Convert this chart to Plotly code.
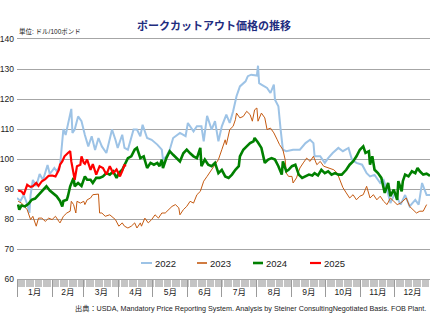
import pandas as pd
import plotly.graph_objects as go

# ---- data: pork cutout price (USD / 100 lb), x = day of year ----
days_2022 = [0, 3, 6, 9, 11, 12, 14, 17, 20, 23,
             27, 29, 33, 35, 38, 40, 41, 43, 46, 48,
             49, 51, 54, 57, 60, 63, 66, 69, 72, 75,
             79, 84, 87, 89, 93, 95, 98, 103, 106, 109,
             111, 115, 119, 124, 128, 129, 132, 135, 138, 144,
             149, 151, 156, 159, 163, 165, 168, 172, 175, 178,
             181, 185, 188, 191, 194, 197, 202, 204, 207, 212,
             213, 214, 216, 221, 224, 227, 228, 231, 233, 235,
             238, 244, 250, 255, 259, 262, 263, 268, 272, 275,
             279, 284, 288, 293, 296, 300, 305, 309, 312, 316,
             321, 324, 327, 330, 334, 339, 343, 347, 352, 355,
             358, 362, 365]
vals_2022 = [87, 86, 88, 85, 82, 88, 93, 91, 95, 93,
             98, 95, 97, 96, 97.6, 105, 110, 108, 113, 116.7,
             108.7, 109.8, 114.2, 112.6, 108, 104.2, 107.6, 103, 107, 104.2,
             102, 109.8, 106.4, 103.7, 108.1, 103.7, 103.1, 109.8, 109.8, 107.6,
             111.4, 107, 106.4, 104.8, 103.1, 99.8, 100.9, 103.1, 107, 108.7,
             107.6, 112, 109.2, 110.9, 110.9, 105.9, 114.4, 109.8, 112.6, 105.9,
             110.9, 114.8, 112, 115.9, 120.9, 124.2, 125.9, 127.6, 128.1, 127.8,
             131.1, 125.3, 124.8, 123.7, 122, 124.8, 119.8, 117.6, 109.8, 103.1,
             102.6, 103.1, 103.1, 105.3, 106.4, 105.3, 100.9, 100.9, 98.7, 100.3,
             102, 103.7, 102.6, 103.7, 99.8, 98.7, 98.1, 95.3, 94.2, 94.7,
             92, 93, 89.8, 85.3, 88.7, 84.8, 88, 84.2, 86.4, 84.8,
             92, 88, 88]

days_2023 = [1, 4, 9, 12, 14, 17, 19, 22, 25, 28,
             31, 34, 37, 38, 41, 44, 47, 48, 50, 52,
             53, 56, 59, 60, 62, 65, 67, 69, 72, 73,
             75, 78, 82, 87, 90, 93, 95, 98, 101, 104,
             106, 109, 110, 113, 116, 119, 122, 125, 128, 131,
             134, 137, 140, 143, 144, 147, 150, 153, 156, 159,
             162, 165, 168, 172, 175, 178, 181, 184, 185, 188,
             191, 193, 194, 197, 200, 203, 206, 208, 210, 212,
             213, 216, 219, 221, 224, 227, 230, 232, 235, 237,
             238, 240, 243, 244, 247, 250, 253, 256, 259, 262,
             265, 268, 271, 275, 280, 283, 285, 288, 291, 294,
             297, 300, 303, 306, 309, 312, 315, 318, 321, 324,
             327, 330, 333, 336, 339, 341, 344, 347, 350, 353,
             356, 359, 362]
vals_2023 = [85.9, 85.3, 83.1, 79.8, 80.9, 77.6, 80.3, 80.3, 79.2, 80.3,
             79.8, 80.9, 79.2, 78.7, 80.9, 82, 82.6, 85.9, 84.8, 82,
             85.9, 85.3, 85.9, 84.8, 86.4, 87, 88.1, 88.1, 88.3, 82,
             82, 80.9, 81.4, 79.8, 77.6, 78.7, 77.6, 77, 77.6, 78.7,
             77, 78.7, 77.6, 80.3, 78.7, 79.8, 81.4, 80.3, 82, 82,
             83.1, 84.2, 84.8, 83.7, 81.4, 83.1, 84.2, 85.9, 85.3, 88.1,
             89.2, 92.6, 94.2, 96.4, 98.4, 99.8, 103.1, 106.4, 104.8, 109.8,
             110.9, 113.1, 115.3, 113.7, 114.2, 115.9, 114.8, 112.6, 116.4, 117,
             112.6, 115.3, 113.7, 109.8, 110.3, 108.7, 106.4, 104.8, 103.1, 99.8,
             95.3, 94.2, 94.2, 92, 93.7, 97, 98.7, 100.3, 99.2, 100.9,
             98.1, 99.2, 97.6, 97, 96.4, 95.3, 93.5, 90.5, 88.7, 87,
             88.1, 86.4, 87.6, 88.1, 90.9, 87, 88.1, 86.4, 87.6, 85.9,
             84.8, 87, 85.9, 84.8, 85.3, 85.9, 87, 84.2, 83.1, 82,
             82.6, 82.6, 84.8]

days_2024 = [1, 2, 4, 7, 10, 13, 16, 19, 22, 23,
             26, 29, 32, 35, 38, 40, 41, 44, 45, 47,
             50, 51, 54, 57, 60, 62, 65, 67, 70, 73,
             76, 79, 82, 85, 88, 90, 93, 95, 98, 101,
             104, 106, 109, 112, 115, 118, 121, 124, 126, 128,
             129, 132, 135, 138, 141, 144, 147, 150, 153, 156,
             159, 162, 163, 166, 169, 172, 175, 177, 178, 181,
             184, 187, 190, 193, 196, 197, 200, 203, 206, 209,
             210, 213, 216, 219, 222, 225, 228, 231, 234, 235,
             238, 240, 243, 246, 249, 252, 255, 258, 261, 263,
             266, 269, 272, 275, 278, 281, 284, 287, 291, 294,
             297, 300, 303, 306, 308, 311, 312, 314, 316, 319,
             322, 325, 328, 330, 333, 336, 337, 340, 341, 343,
             346, 349, 352, 354, 356, 359, 362, 365]
vals_2024 = [84.8, 83.1, 84.5, 84.2, 85, 86.4, 86.8, 88.1, 89.2, 89.8,
             90.9, 89.5, 88.7, 87.6, 86, 84.2, 86, 86.4, 87.6, 90.9,
             93.7, 90.9, 92, 91, 94.2, 93.1, 93.1, 92, 93.7, 93.7,
             94.2, 95.3, 94.8, 95.9, 93.7, 95.3, 96.4, 98.1, 100.3, 100.9,
             103.1, 103.7, 100.3, 100.9, 97, 98.7, 98.1, 98.7, 97.6, 99.8,
             97, 100.3, 102.6, 101.4, 100.3, 99.2, 101.9, 103.1, 101.9, 100.9,
             100.3, 103.7, 97.6, 99.8, 98.1, 97.6, 98.7, 95.9, 95.3, 96.4,
             94.2, 93.7, 94.8, 96.4, 97.6, 100.9, 103.1, 104.2, 105.3, 105.9,
             107, 105.5, 103.7, 98.7, 99.8, 100.3, 99.8, 97.6, 94.8, 99.2,
             95.9, 96.4, 97.6, 98.1, 94.8, 93.7, 94.2, 94.8, 94.5, 95.3,
             94.5, 96.4, 95.3, 95.9, 94.8, 95.3, 94.8, 94.8, 96.4, 98.1,
             99.2, 100.9, 103.1, 104.2, 102, 102.6, 98.1, 100.9, 96.4, 95.3,
             93.7, 88.7, 92, 87.6, 89.8, 86.4, 92.6, 89.2, 92.6, 94.8,
             94.2, 95.9, 95.3, 97, 95.9, 94.8, 95.1, 94.4]

days_2025 = [1, 4, 6, 9, 10, 12, 14, 17, 19, 22,
             25, 28, 31, 34, 37, 38, 40, 42, 45, 47,
             48, 49, 50, 51, 53, 56, 57, 59, 60, 62,
             65, 67, 70, 73, 76, 79, 82, 85, 88, 91,
             93, 95, 96]
vals_2025 = [89.5, 89.2, 88.1, 91.4, 91.1, 90.7, 90.9, 92, 91, 92.6,
             93.3, 94.4, 94.5, 94.2, 96.4, 98.1, 99.2, 100.9, 102, 102.6,
             99.2, 97, 94.2, 93.1, 97.6, 98.1, 100.9, 98.7, 98.4, 99.8,
             96.4, 98.3, 94.8, 97.6, 97, 94.8, 97.6, 95.3, 96.5, 94.2,
             96, 98.1, 97.5]

series = [
    ("2022", days_2022, vals_2022, "#9dc3e6", 2.0),
    ("2023", days_2023, vals_2023, "#c55a11", 1.0),
    ("2024", days_2024, vals_2024, "#008000", 2.6),
    ("2025", days_2025, vals_2025, "#ff0000", 2.2),
]

y_ticks = [60, 70, 80, 90, 100, 110, 120, 130, 140]

TITLE = "ポークカットアウト価格の推移"
UNIT = "単位: ドル/100ポンド"
SOURCE = ("出典：USDA, Mandatory Price Reporting System. Analysis by Steiner "
          "ConsultingNegotiated Basis. FOB Plant.")

W, H = 430, 332
ML, MR, MT, MB = 17, 0, 39, 53
PW, PH = W - ML - MR, H - MT - MB

base = pd.Timestamp("2022-01-01")

fig = go.Figure()
for name, d, v, color, width in series:
    assert len(d) == len(v), name
    x = [base + pd.Timedelta(days=int(k)) for k in d]
    fig.add_trace(go.Scatter(x=x, y=v, mode="lines", name=name,
                             line=dict(color=color, width=width),
                             showlegend=False))

# legend row drawn beneath the curves
def px_x(p):
    return (p - ML) / PW

def px_y(p):
    return (H - MB - p) / PH

legend_pos = [(141, 152), (197, 207), (253, 263), (310, 321)]
leg_y = px_y(263)
shapes = []
annotations = []
for (name, d, v, color, width), (x0, x1) in zip(series, legend_pos):
    shapes.append(dict(type="line", xref="paper", yref="paper",
                       x0=px_x(x0), x1=px_x(x1), y0=leg_y, y1=leg_y,
                       line=dict(color=color, width=max(width, 1.6))))
    annotations.append(dict(text=name, xref="paper", yref="paper",
                            x=px_x(x1 + 1), y=leg_y, xanchor="left",
                            yanchor="middle", showarrow=False,
                            font=dict(size=9.5, color="#222")))

annotations.append(dict(text=UNIT, xref="paper", yref="paper",
                        x=0, y=px_y(31.5), xanchor="left", yanchor="middle",
                        showarrow=False, font=dict(size=6.5, color="#222")))
annotations.append(dict(text=SOURCE, xref="paper", yref="paper",
                        x=px_x(428), y=px_y(308), xanchor="right",
                        yanchor="middle", showarrow=False,
                        font=dict(size=7.2, color="#222")))

fig.update_layout(
    width=W, height=H,
    margin=dict(l=ML, r=MR, t=MT, b=MB, pad=0),
    paper_bgcolor="white", plot_bgcolor="white",
    font=dict(family="Liberation Sans, Arial, Noto Sans CJK JP", color="#222"),
    title=dict(text="<b>" + TITLE + "</b>", x=214 / W, xanchor="center",
               y=1 - 26 / H, yanchor="middle",
               font=dict(family="Noto Sans CJK JP", size=11, color="#1f2d7f")),
    shapes=shapes,
    annotations=annotations,
    xaxis=dict(
        type="date",
        range=["2022-01-01", "2023-01-01"],
        tickmode="linear", tick0="2022-01-01", dtick="M1",
        ticklabelmode="period", tickformat="%-m月",
        ticks="outside", ticklen=17, tickcolor="#9a9a9a", tickwidth=1,
        ticklabelstandoff=-12,
        tickfont=dict(size=8.5, color="#222",
                      family="Liberation Sans, Noto Sans CJK JP"),
        minor=dict(ticks="outside", ticklen=7, dtick=86400000,
                   tick0="2022-01-01", tickcolor="#c4c4c4", tickwidth=1,
                   showgrid=False),
        showgrid=False, showline=True, mirror=True,
        linecolor="#a6a6a6", linewidth=1,
        zeroline=False, fixedrange=True,
    ),
    yaxis=dict(
        range=[60, 140], tickmode="array", tickvals=y_ticks,
        showgrid=True, gridcolor="#a6a6a6", gridwidth=1,
        zeroline=False, showline=False, ticks="",
        tickfont=dict(size=8.5, color="#222"),
        ticklabelstandoff=2,
    ),
)

fig.write_html("out.html")
